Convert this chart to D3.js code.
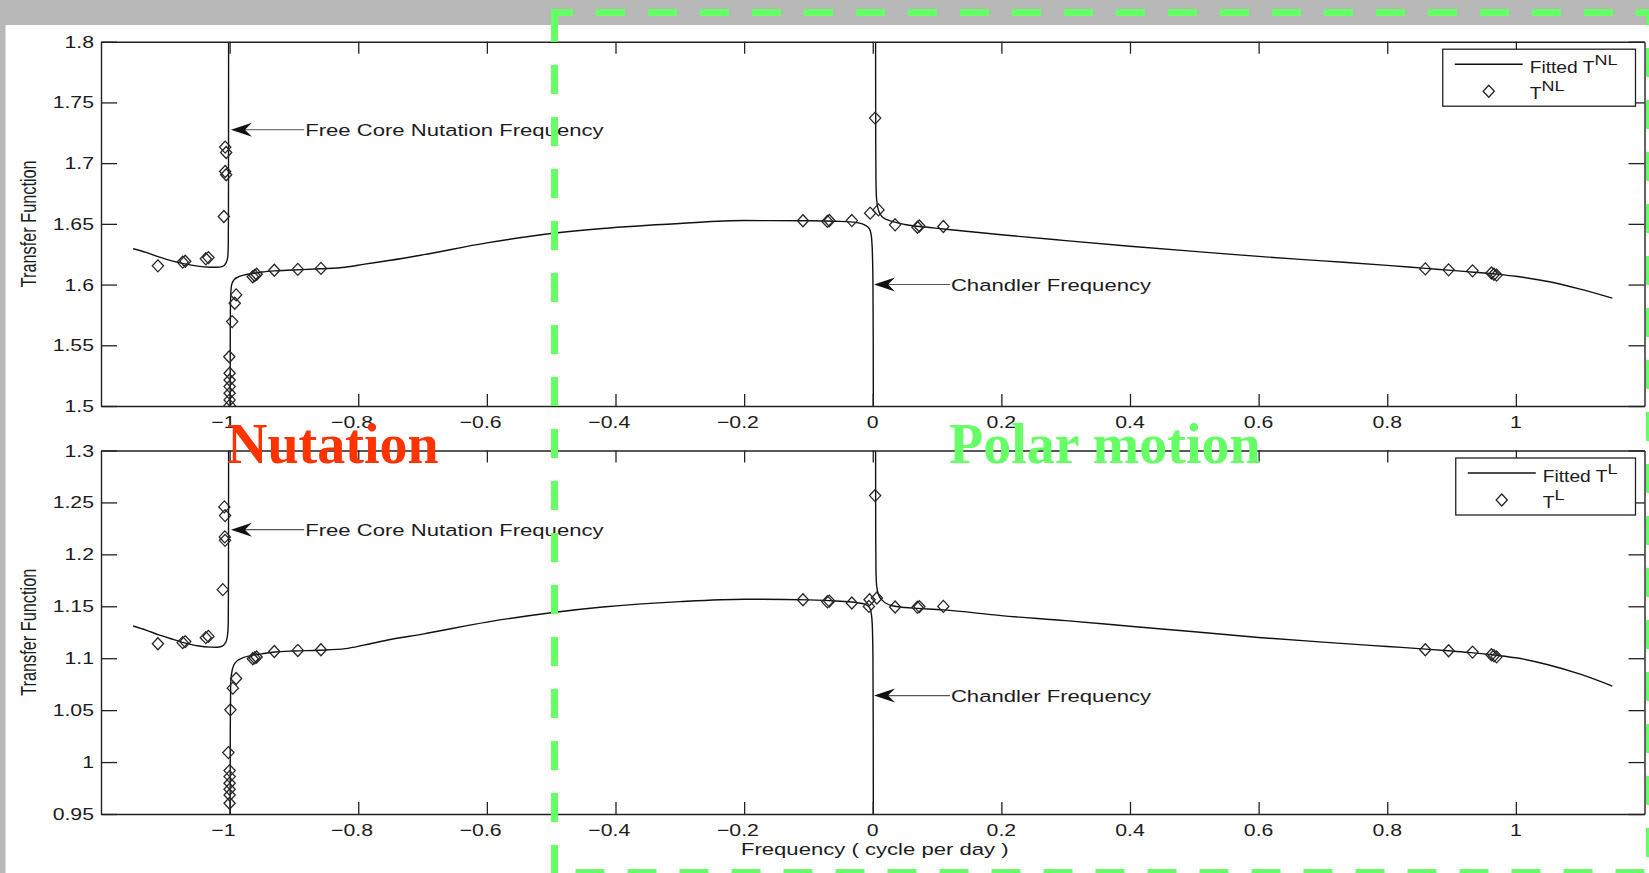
<!DOCTYPE html>
<html>
<head>
<meta charset="utf-8">
<script src="https://cdn.jsdelivr.net/npm/d3@7/dist/d3.min.js"></script>
<style>
html, body { margin: 0; padding: 0; background: #b8b8b8; overflow: hidden; }
svg { display: block; }
</style>
</head>
<body>
<svg id="chart" width="1649" height="873"></svg>
<script>
// ---------------- DATA ----------------
const xLimits = [-1.2, 1.2];
const xTickValues = [-1, -0.8, -0.6, -0.4, -0.2, 0, 0.2, 0.4, 0.6, 0.8, 1];
const xTickLabels = ["−1", "−0.8", "−0.6", "−0.4", "−0.2", "0", "0.2", "0.4", "0.6", "0.8", "1"];

const yLimitsNL = [1.5, 1.8];
const yTickValuesNL = [1.5, 1.55, 1.6, 1.65, 1.7, 1.75, 1.8];
const yTickLabelsNL = ["1.5", "1.55", "1.6", "1.65", "1.7", "1.75", "1.8"];

const yLimitsL = [0.95, 1.3];
const yTickValuesL = [0.95, 1, 1.05, 1.1, 1.15, 1.2, 1.25, 1.3];
const yTickLabelsL = ["0.95", "1", "1.05", "1.1", "1.15", "1.2", "1.25", "1.3"];

// Fitted T^NL : three branches separated by the FCN and Chandler resonances
const fitNL_left = [[-1.15,1.6295],[-1.13,1.6265],[-1.11,1.6228],[-1.09,1.6195],[-1.07,1.617],[-1.05,1.6152],
  [-1.03,1.6143],[-1.02,1.6142],[-1.012,1.6148],[-1.008,1.616],[-1.005,1.6185],[-1.003,1.6225],[-1.0021,1.632],
  [-1.0018,1.66],[-1.0017,1.72],[-1.0016,1.80]];
const fitNL_mid = [[-0.9992,1.50],[-0.999,1.565],[-0.9984,1.59],[-0.997,1.5995],[-0.993,1.604],[-0.987,1.6062],
  [-0.978,1.6078],[-0.965,1.609],[-0.95,1.6103],[-0.93,1.6113],[-0.9,1.612],[-0.86,1.613],[-0.82,1.6143],
  [-0.79,1.6168],[-0.75,1.62],[-0.7,1.6245],[-0.6,1.6343],[-0.5,1.642],[-0.42,1.6462],[-0.3,1.6503],
  [-0.2,1.6527],[-0.1,1.6525],[-0.05,1.652],[-0.025,1.651],[-0.012,1.649],[-0.006,1.6465],[-0.003,1.6425],
  [-0.0015,1.636],[-0.0005,1.625],[0.0003,1.60],[0.0007,1.56],[0.0009,1.50]];
const fitNL_right = [[0.0044,1.80],[0.0046,1.72],[0.005,1.685],[0.006,1.67],[0.009,1.661],[0.015,1.6557],
  [0.03,1.652],[0.05,1.6495],[0.07,1.648],[0.11,1.6458],[0.2,1.641],[0.3,1.6362],[0.4,1.6316],[0.5,1.6273],
  [0.6,1.6232],[0.7,1.6195],[0.8,1.6158],[0.86,1.6133],[0.9,1.6117],[0.93,1.6104],[0.97,1.6086],[1.0,1.6068],
  [1.05,1.6025],[1.1,1.5962],[1.15,1.5888]];

// Observed T^NL
const obsNL = [[-1.1115,1.6154],[-1.073,1.6185],[-1.069,1.6192],[-1.037,1.6212],[-1.033,1.6222],
  [-1.0069,1.7132],[-1.0054,1.7088],[-1.0069,1.6931],[-1.0054,1.6904],[-1.009,1.656],
  [-0.9899,1.5915],[-0.992,1.5846],[-0.996,1.5695],[-1.0005,1.5406],[-1.0,1.527],[-1.0,1.5214],
  [-1.0,1.516],[-1.0,1.5105],[-1.0,1.505],[-1.0,1.5005],
  [-0.964,1.6065],[-0.961,1.6075],[-0.958,1.6085],[-0.9305,1.6118],[-0.894,1.6125],[-0.858,1.6133],
  [-0.1085,1.6525],[-0.0705,1.652],[-0.0675,1.6528],[-0.0325,1.6527],[-0.004,1.6588],[0.0089,1.6615],
  [0.0037,1.7371],[0.0348,1.6492],[0.0695,1.6472],[0.0725,1.6482],[0.1098,1.6478],
  [0.8592,1.6129],[0.8954,1.6121],[0.9326,1.6113],[0.962,1.6095],[0.966,1.6085],[0.97,1.6078]];

// Fitted T^L
const fitL_left = [[-1.15,1.131],[-1.13,1.127],[-1.11,1.1225],[-1.09,1.1185],[-1.07,1.1148],[-1.05,1.112],
  [-1.03,1.1107],[-1.02,1.1106],[-1.012,1.1115],[-1.008,1.1135],[-1.005,1.117],[-1.003,1.1235],[-1.0021,1.135],
  [-1.0018,1.17],[-1.0017,1.23],[-1.0016,1.30]];
const fitL_mid = [[-0.9992,0.95],[-0.999,1.03],[-0.9984,1.075],[-0.997,1.085],[-0.993,1.094],[-0.987,1.098],
  [-0.978,1.1008],[-0.965,1.1028],[-0.95,1.1042],[-0.93,1.106],[-0.9,1.107],[-0.86,1.1077],[-0.82,1.1092],
  [-0.79,1.1128],[-0.75,1.118],[-0.7,1.1232],[-0.6,1.1348],[-0.5,1.1438],[-0.42,1.1493],[-0.3,1.1545],
  [-0.2,1.1568],[-0.1,1.1562],[-0.05,1.1548],[-0.025,1.1535],[-0.012,1.152],[-0.006,1.1495],[-0.003,1.1455],
  [-0.0015,1.139],[-0.0005,1.128],[0.0003,1.10],[0.0007,1.04],[0.0009,0.95]];
const fitL_right = [[0.0044,1.30],[0.0046,1.22],[0.005,1.185],[0.006,1.17],[0.009,1.161],[0.015,1.1557],
  [0.03,1.1505],[0.05,1.1488],[0.07,1.148],[0.11,1.1465],[0.2,1.141],[0.3,1.1362],[0.4,1.1308],[0.5,1.1255],
  [0.6,1.12],[0.7,1.1155],[0.8,1.1113],[0.86,1.1088],[0.9,1.1069],[0.93,1.1054],[0.97,1.1028],[1.0,1.1004],
  [1.05,1.0937],[1.1,1.0846],[1.15,1.0732]];

// Observed T^L
const obsL = [[-1.1115,1.1139],[-1.073,1.115],[-1.069,1.116],[-1.037,1.1198],[-1.033,1.121],
  [-1.0082,1.2457],[-1.0071,1.2373],[-1.0075,1.2168],[-1.0071,1.2135],[-1.0106,1.166],
  [-0.9899,1.0805],[-0.995,1.0712],[-0.9988,1.0503],[-1.0019,1.0091],[-1.0,0.9918],[-1.0,0.986],
  [-1.0,0.9796],[-1.0,0.9738],[-1.0,0.9683],[-1.0,0.9603],
  [-0.964,1.0995],[-0.961,1.1003],[-0.958,1.1012],[-0.9305,1.1065],[-0.894,1.1075],[-0.858,1.1081],
  [-0.1085,1.1563],[-0.0705,1.1543],[-0.0675,1.155],[-0.0325,1.1532],[-0.005,1.1563],[-0.006,1.1499],
  [0.0064,1.158],[0.0037,1.2566],[0.0348,1.1493],[0.0695,1.149],[0.0725,1.1497],[0.1098,1.1499],
  [0.8592,1.1081],[0.8954,1.1072],[0.9326,1.1059],[0.962,1.1033],[0.966,1.1023],[0.97,1.1013]];

// Arrow annotations: tip (x,y) and text start x, in data units
const annNL = [
  {x: -0.998, y: 1.7275, tx: -0.884, label: "Free Core Nutation Frequency"},
  {x: 0.002, y: 1.6, tx: 0.12, label: "Chandler Frequency"}
];
const annL = [
  {x: -0.998, y: 1.2238, tx: -0.884, label: "Free Core Nutation Frequency"},
  {x: 0.002, y: 1.064, tx: 0.12, label: "Chandler Frequency"}
];

const xAxisTitle = "Frequency ( cycle per day )";
const yAxisTitle = "Transfer Function";
const overlayLabels = [
  {text: "Nutation", color: "#ff3300"},
  {text: "Polar motion", color: "#66ff66"}
];

// ---------------- DRAWING ----------------
const FONT = '"Liberation Sans", Arial, Helvetica, sans-serif';
const SERIF = '"Liberation Serif", "Times New Roman", serif';
const INK = "#1c1c1c";
const svg = d3.select("#chart");

// background: grey page with white figure area
svg.append("rect").attr("x", 0).attr("y", 0).attr("width", 1649).attr("height", 873).attr("fill", "#b8b8b8");
svg.append("rect").attr("x", 5.5).attr("y", 25).attr("width", 1643.5).attr("height", 848).attr("fill", "#ffffff");

const x = d3.scaleLinear().domain(xLimits).range([101, 1644.5]);

function stext(parent, px, py, str, size, sx, anchor) {
  const g = parent.append("g").attr("transform", `translate(${px},${py}) scale(${sx},1)`);
  const t = g.append("text").attr("x", 0).attr("y", 0)
    .attr("font-family", FONT).attr("font-size", size)
    .attr("text-anchor", anchor || "start").attr("fill", INK).text(str);
  return {g, t};
}

const diamond = "M0,-6L5.6,0L0,6L-5.6,0Z";

const panels = [
  {id: "nl", top: 41.7, bottom: 406, yLim: yLimitsNL, yTicks: yTickValuesNL, yLabels: yTickLabelsNL,
   fits: [fitNL_left, fitNL_mid, fitNL_right], obs: obsNL, ann: annNL, sup: "NL", xTitle: false},
  {id: "l", top: 450.5, bottom: 814, yLim: yLimitsL, yTicks: yTickValuesL, yLabels: yTickLabelsL,
   fits: [fitL_left, fitL_mid, fitL_right], obs: obsL, ann: annL, sup: "L", xTitle: true}
];

panels.forEach(p => {
  const y = d3.scaleLinear().domain(p.yLim).range([p.bottom, p.top]);
  const [x0, x1] = x.range();
  const g = svg.append("g");

  svg.append("clipPath").attr("id", "clip-" + p.id)
    .append("rect").attr("x", x0).attr("y", p.top).attr("width", x1 - x0).attr("height", p.bottom - p.top);

  // fitted curve
  const line = d3.line().x(d => x(d[0])).y(d => y(d[1])).curve(d3.curveMonotoneX);
  const curves = g.append("g").attr("clip-path", `url(#clip-${p.id})`);
  p.fits.forEach(seg => {
    curves.append("path").attr("d", line(seg)).attr("fill", "none")
      .attr("stroke", "#111").attr("stroke-width", 1.4).attr("stroke-linejoin", "round");
  });

  // observed diamonds
  curves.selectAll("path.obs").data(p.obs).join("path").attr("class", "obs")
    .attr("d", diamond)
    .attr("transform", d => `translate(${x(d[0])},${y(d[1])})`)
    .attr("fill", "none").attr("stroke", "#262626").attr("stroke-width", 1.3);

  // axes (inside ticks, box)
  const styleAxis = sel => {
    sel.selectAll(".domain").attr("stroke", "#222").attr("stroke-width", 1.4);
    sel.selectAll(".tick line").attr("stroke", "#222").attr("stroke-width", 1.3);
    sel.selectAll(".tick text").remove();
  };
  g.append("g").attr("transform", `translate(0,${p.bottom})`)
    .call(d3.axisBottom(x).tickValues(xTickValues).tickSize(-12).tickSizeOuter(0).tickFormat(""))
    .call(styleAxis);
  g.append("g").attr("transform", `translate(0,${p.top})`)
    .call(d3.axisTop(x).tickValues(xTickValues).tickSize(-12).tickSizeOuter(0).tickFormat(""))
    .call(styleAxis);
  g.append("g").attr("transform", `translate(${x0},0)`)
    .call(d3.axisLeft(y).tickValues(p.yTicks).tickSize(-16).tickSizeOuter(0).tickFormat(""))
    .call(styleAxis);
  g.append("g").attr("transform", `translate(${x1},0)`)
    .call(d3.axisRight(y).tickValues(p.yTicks).tickSize(-16).tickSizeOuter(0).tickFormat(""))
    .call(styleAxis);

  // x tick labels (digits centred on tick, minus sign hanging left)
  xTickValues.forEach((v, i) => {
    const lab = xTickLabels[i];
    const neg = lab.startsWith("−");
    const num = neg ? lab.slice(1) : lab;
    const s = stext(g, x(v), p.bottom + 21.5, num, 17, 1.25, "middle");
    if (neg) {
      const w = s.t.node().getComputedTextLength();
      s.g.append("text").attr("x", -w / 2).attr("y", 0).attr("font-family", FONT)
        .attr("font-size", 17).attr("text-anchor", "end").attr("fill", INK).text("−");
    }
  });

  // y tick labels
  p.yTicks.forEach((v, i) => {
    stext(g, x0 - 7, y(v) + 6, p.yLabels[i], 17, 1.25, "end");
  });

  // y axis title (rotated, stretched across)
  g.append("g").attr("transform", `translate(36,${(p.top + p.bottom) / 2}) rotate(-90) scale(1,1.3)`)
    .append("text").attr("text-anchor", "middle").attr("font-family", FONT)
    .attr("font-size", 16.3).attr("fill", INK).text(yAxisTitle);

  if (p.xTitle) {
    stext(g, x(0) + 2, p.bottom + 41, xAxisTitle, 17, 1.3, "middle");
  }

  // arrow annotations
  p.ann.forEach(a => {
    const tipX = x(a.x), ay = y(a.y), tx = x(a.tx);
    g.append("line").attr("x1", tipX + 14).attr("y1", ay).attr("x2", tx).attr("y2", ay)
      .attr("stroke", "#555").attr("stroke-width", 1.1);
    g.append("path")
      .attr("d", `M${tipX},${ay}L${tipX + 21},${ay - 7}L${tipX + 14},${ay}L${tipX + 21},${ay + 7}Z`)
      .attr("fill", "#111");
    stext(g, tx + 1, ay + 6, a.label, 17, 1.3, "start");
  });

  // legend
  const lg = svg.append("g");
  const boxTop = p.top + 7.5, boxH = 57;
  const boxRight = x1 - 9;
  const rect = lg.append("rect");
  const row1 = lg.append("g"), row2 = lg.append("g");
  const t1 = row1.append("text").attr("font-family", FONT).attr("font-size", 16).attr("fill", INK);
  t1.append("tspan").text("Fitted T");
  t1.append("tspan").attr("font-size", 15).attr("dy", -7.5).text(p.sup);
  const t2 = row2.append("text").attr("font-family", FONT).attr("font-size", 16).attr("fill", INK);
  t2.append("tspan").text("T");
  t2.append("tspan").attr("font-size", 15).attr("dy", -8).text(p.sup);
  const sx = 1.2;
  const w = Math.max(t1.node().getComputedTextLength(), t2.node().getComputedTextLength()) * sx;
  const textX = boxRight - 18 - w;
  row1.attr("transform", `translate(${textX},${boxTop + 15 + 8.5}) scale(${sx},1)`);
  row2.attr("transform", `translate(${textX},${boxTop + 42 + 8}) scale(${sx},1)`);
  const lineEnd = textX - 7, lineStart = lineEnd - 68;
  const boxLeft = lineStart - 12;
  rect.attr("x", boxLeft).attr("y", boxTop).attr("width", boxRight - boxLeft).attr("height", boxH)
    .attr("fill", "#fff").attr("stroke", "#222").attr("stroke-width", 1.3);
  lg.append("line").attr("x1", lineStart).attr("x2", lineEnd).attr("y1", boxTop + 15).attr("y2", boxTop + 15)
    .attr("stroke", "#111").attr("stroke-width", 1.4);
  lg.append("path").attr("d", diamond)
    .attr("transform", `translate(${(lineStart + lineEnd) / 2},${boxTop + 42})`)
    .attr("fill", "none").attr("stroke", "#262626").attr("stroke-width", 1.3);
});

// ---------------- OVERLAYS (slide annotations) ----------------
svg.append("text").attr("x", 227).attr("y", 463).attr("font-family", SERIF).attr("font-weight", "bold")
  .attr("font-size", 56).attr("fill", overlayLabels[0].color).text(overlayLabels[0].text);
svg.append("text").attr("x", 949).attr("y", 463).attr("font-family", SERIF).attr("font-weight", "bold")
  .attr("font-size", 56).attr("fill", overlayLabels[1].color).text(overlayLabels[1].text);

const green = "#66ff66";
const dashG = svg.append("g").attr("stroke", green).attr("stroke-width", 7).attr("stroke-dasharray", "29,23");
dashG.append("line").attr("x1", 551).attr("y1", 12.5).attr("x2", 1649).attr("y2", 12.5).attr("stroke-dashoffset", 7);
dashG.append("line").attr("x1", 554.5).attr("y1", 13).attr("x2", 554.5).attr("y2", 873);
dashG.append("line").attr("x1", 554.5).attr("y1", 872.5).attr("x2", 1649).attr("y2", 872.5).attr("stroke-dashoffset", 31);
dashG.append("line").attr("x1", 1649.5).attr("y1", 12).attr("x2", 1649.5).attr("y2", 873).attr("stroke-dashoffset", 16);
</script>
</body>
</html>
